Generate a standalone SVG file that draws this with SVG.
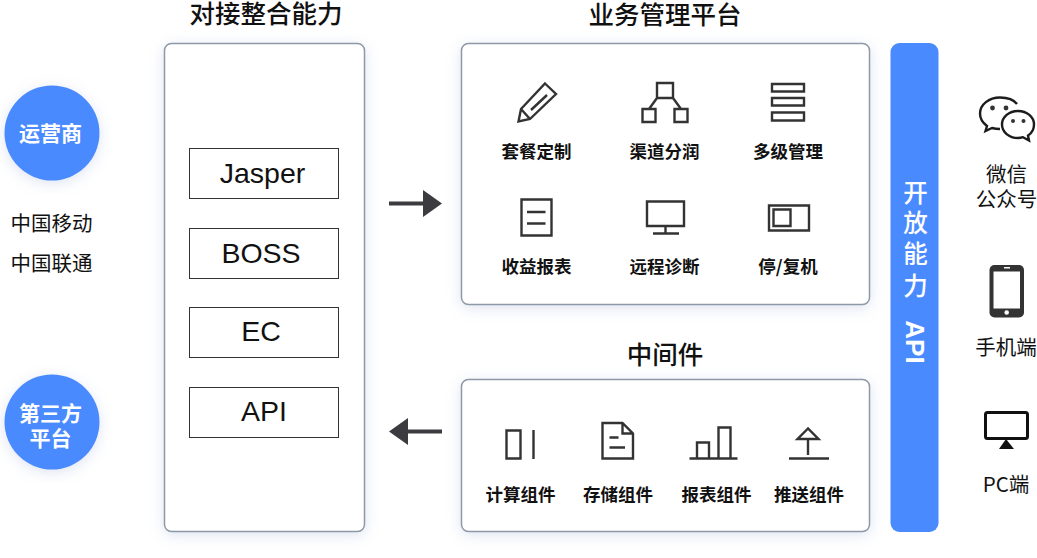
<svg xmlns="http://www.w3.org/2000/svg" width="1037" height="558" viewBox="0 0 1037 558">
<style>
text{font-family:"Liberation Sans","Noto Sans CJK SC",sans-serif;text-anchor:middle;dominant-baseline:central;fill:#111}
.cjk{font-family:"Noto Sans CJK SC",sans-serif}
.title{font-size:25.500px;font-weight:500}
.lbl{font-size:17.500px;font-weight:700}
.side{font-size:20.500px;font-weight:400}
.white{fill:#fff;font-weight:700;font-size:21px}
.v{fill:#fff;font-size:24.500px;font-weight:500}
.box{font-size:28.500px}
.panel{fill:#fff;stroke:#8e99a8;stroke-width:1.500;filter:url(#sh)}
.inner{fill:#fff;stroke:#333;stroke-width:1}
.i{fill:none;stroke:#333;stroke-width:2.400}
.w{fill:none;stroke:#1c1c1c;stroke-width:2.400}
.d{fill:#333}
</style>
<defs>
<filter id="sh" x="-15%" y="-15%" width="130%" height="130%"><feDropShadow dx="0" dy="3" stdDeviation="7" flood-color="#9fb4d8" flood-opacity=".35"/></filter>
</defs>
<rect width="1037" height="558" fill="#fff"/>
<g id="carrier"><circle cx="52" cy="133" r="47.500" fill="#4a8aff" filter="url(#sh)"/><text class="cjk white" x="50.500" y="132">运营商</text></g>
<g id="third-party"><circle cx="52" cy="422" r="47.500" fill="#4a8aff" filter="url(#sh)"/><text class="cjk white" x="50.500" y="411.500">第三方</text><text class="cjk white" x="50.500" y="436.500">平台</text></g>
<g id="cmcc"><text class="cjk side" x="51.500" y="222">中国移动</text></g>
<g id="cucc"><text class="cjk side" x="51.500" y="262">中国联通</text></g>
<g id="integration"><rect class="panel" x="164.500" y="43.500" width="200" height="488" rx="7"/><text class="cjk title" x="266" y="11">对接整合能力</text>
<rect class="inner" x="189.500" y="148.500" width="149" height="50"/><text class="box" x="262.500" y="173">Jasper</text>
<rect class="inner" x="189.500" y="228.500" width="149" height="50"/><text class="box" x="261" y="253">BOSS</text>
<rect class="inner" x="189.500" y="307.500" width="149" height="50"/><text class="box" x="261" y="331">EC</text>
<rect class="inner" x="189.500" y="387.500" width="149" height="50"/><text class="box" x="264" y="411">API</text></g>
<g id="connectors">
<path d="M389 203.500H424" stroke="#3c3c40" stroke-width="4" fill="none"/><polygon points="423,190 442,203.500 423,217" fill="#3c3c40"/>
<path d="M442 431.500H407" stroke="#3c3c40" stroke-width="4" fill="none"/><polygon points="408,418 389,431.500 408,445" fill="#3c3c40"/>
</g>
<g id="platform"><rect class="panel" x="461.500" y="43.500" width="408" height="261" rx="7"/><text class="cjk title" x="665" y="12.500">业务管理平台</text>
<g id="package"><path class="i" d="M545 83.500L556 94L530 119L518.500 121.500L521 109ZM521 109L530 119M531 110L547 95"/><text class="cjk lbl" x="536.500" y="150.500">套餐定制</text></g>
<g id="channel"><path class="i" d="M657 83h16v15h-16zM642.500 109h13v13h-13zM674.500 109h13v13h-13zM657 98L649 109M673 98L681 109"/><text class="cjk lbl" x="664.500" y="150.500">渠道分润</text></g>
<g id="levels"><path class="i" d="M772 84h32v7.500h-32zM772 98h32v7.500h-32zM772 112.500h32v8h-32z"/><text class="cjk lbl" x="788" y="150.500">多级管理</text></g>
<g id="report"><path class="i" d="M521.500 199.500h30v36h-30zM527 212h18.500M527 223.500h18.500"/><text class="cjk lbl" x="536.500" y="265.500">收益报表</text></g>
<g id="diagnose"><path class="i" d="M647 201.500h37v24.500h-37zM665.500 226v7M653 233.500h26"/><text class="cjk lbl" x="664.500" y="265.500">远程诊断</text></g>
<g id="suspend"><path class="i" d="M769 205.500h40v25h-40zM773.500 209.500h17v16.500h-17z"/><text class="cjk lbl" x="788" y="265.500">停/复机</text></g>
</g>
<g id="middleware"><rect class="panel" x="461.500" y="379.500" width="408" height="152" rx="7"/><text class="cjk title" x="665" y="352.500">中间件</text>
<g id="compute"><path class="i" d="M506.500 430.500h14v28h-14zM533.500 430v29"/><text class="cjk lbl" x="520.500" y="493.500">计算组件</text></g>
<g id="storage"><path class="i" d="M602.500 423h20l10.500 10.500v25h-30.500zM622.500 423v10.500h10.500M609.500 437.500h9M609.500 447.500h15.500"/><text class="cjk lbl" x="618" y="493.500">存储组件</text></g>
<g id="reporting"><path class="i" d="M689.500 458.500h48M697 458v-15.500h12v15.500M718.500 458v-30.500h12v30.500"/><text class="cjk lbl" x="716.500" y="493.500">报表组件</text></g>
<g id="push"><path class="i" d="M789 458.500h40M808 428.500L797.500 439h21zM808 439v16"/><text class="cjk lbl" x="809" y="493.500">推送组件</text></g>
</g>
<g id="open-api"><rect x="890.500" y="43" width="48" height="489" rx="9" fill="#4a8aff"/>
<text class="cjk v" x="915.500" y="191">开</text><text class="cjk v" x="915.500" y="221">放</text><text class="cjk v" x="915.500" y="252">能</text><text class="cjk v" x="915.500" y="284">力</text>
<text style="fill:#fff;font-size:26px;font-weight:700" transform="translate(915 342) rotate(90)">API</text></g>
<g id="wechat"><path class="w" d="M1000 97.500c-11 0-20 7-20 16 0 5 3 9.500 7 12.500l-1.500 5 6.500-3c2.500.7 5 1 8 1"/><path class="w" d="M1017 104c-3-4-9.500-6.500-17-6.500"/><path class="w" d="M1018 111c-9 0-16 6-16 13.500s7 13.500 16 13.500c2 0 3.500-.3 5-.8l6 3.300-1-5c4-2.500 6-6.500 6-11 0-7.500-7-13.500-16-13.500z"/><circle class="d" cx="992.500" cy="108" r="2.400"/><circle class="d" cx="1006" cy="108" r="2.400"/><circle class="d" cx="1013" cy="121" r="2"/><circle class="d" cx="1023.500" cy="121" r="2"/><text class="cjk side" x="1006.500" y="173">微信</text><text class="cjk side" x="1006.500" y="198">公众号</text></g>
<g id="mobile"><rect class="d" x="989.500" y="265" width="34.500" height="52.500" rx="5"/><rect x="993.500" y="271.500" width="26.500" height="37" fill="#fff"/><rect x="1004" y="267" width="6" height="1.500" fill="#fff"/><circle cx="1006.700" cy="312.500" r="2.300" fill="#fff"/><text class="cjk side" x="1006" y="345.500">手机端</text></g>
<g id="pc"><rect x="985.500" y="412.500" width="42" height="26" rx="2" fill="#fff" stroke="#111" stroke-width="3"/><polygon points="1006,439 1014,449 999,449" fill="#111"/><text class="cjk side" x="1006" y="483">PC端</text></g>
</svg>
